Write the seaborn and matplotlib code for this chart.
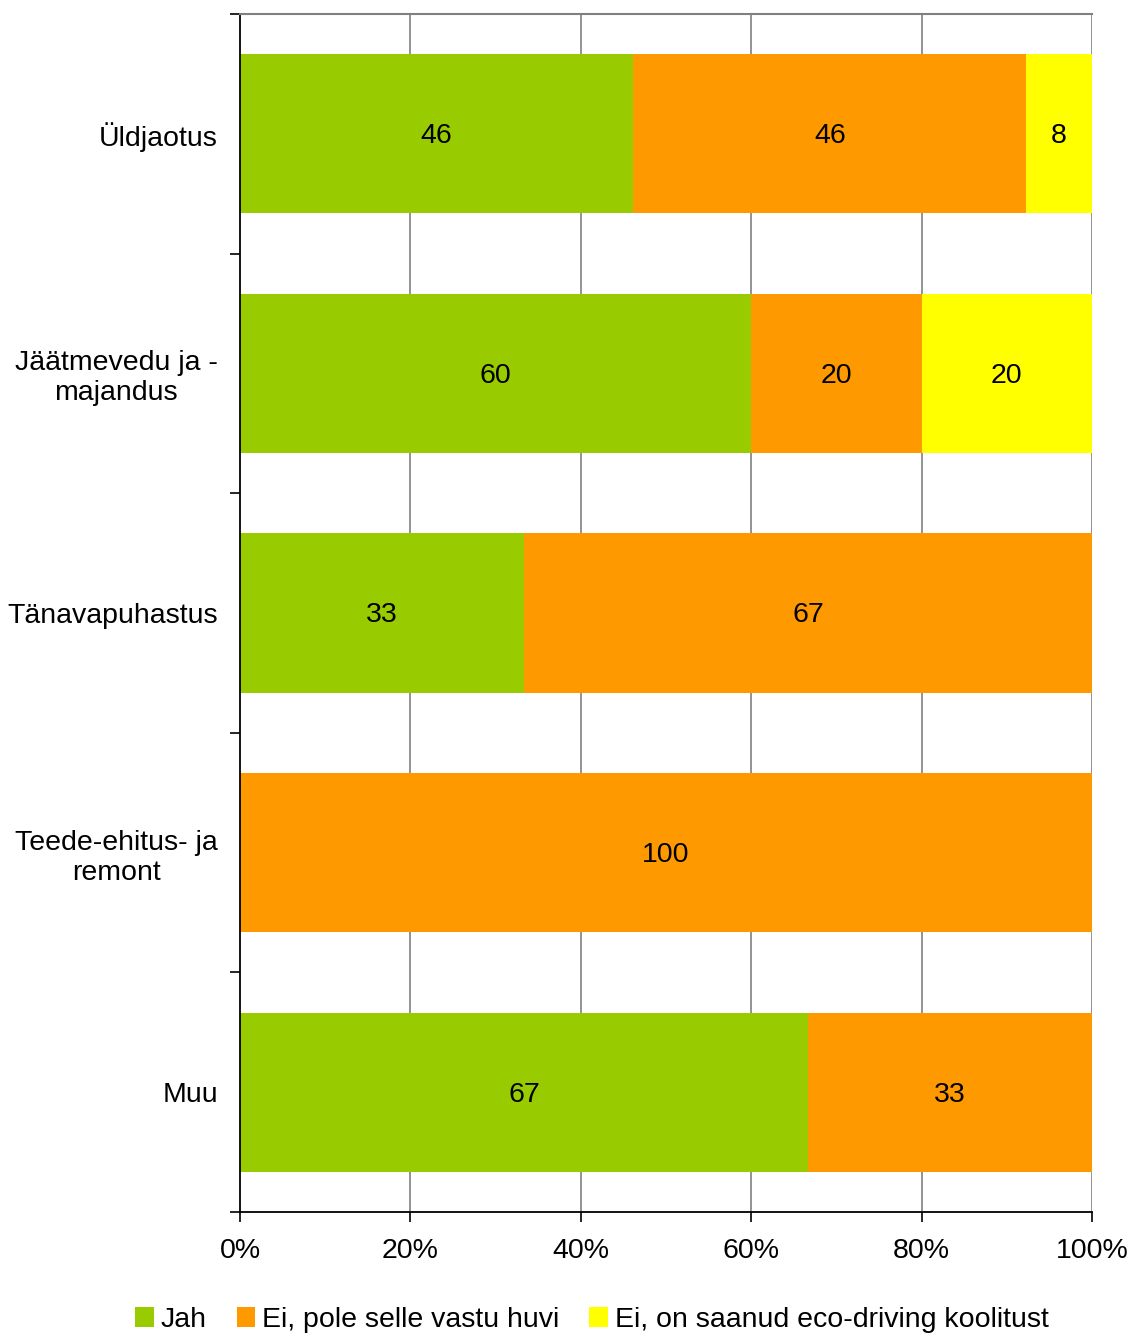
import matplotlib
matplotlib.use("Agg")
import matplotlib.pyplot as plt
from matplotlib.patches import Patch
import seaborn as sns
import pandas as pd
import numpy as np

categories = ["Üldjaotus", "Jäätmevedu ja -\nmajandus", "Tänavapuhastus", "Teede-ehitus- ja\nremont", "Muu"]
series_names = ["Jah", "Ei, pole selle vastu huvi", "Ei, on saanud eco-driving koolitust"]
jah = [46.15, 60.0, 33.33, 0.0, 66.67]
ei_huvi = [46.15, 20.0, 66.67, 100.0, 33.33]
ei_koolitus = [7.69, 20.0, 0.0, 0.0, 0.0]
colors = ["#99CC00", "#FF9900", "#FFFF00"]
xticks = [0, 20, 40, 60, 80, 100]
xtick_labels = ["0%", "20%", "40%", "60%", "80%", "100%"]

sns.set_theme(style="white")
plt.rcParams["font.family"] = ["Liberation Sans", "DejaVu Sans"]
plt.rcParams["text.color"] = "black"
plt.rcParams["xtick.color"] = "black"
plt.rcParams["ytick.color"] = "black"
plt.rcParams["xtick.labelcolor"] = "black"
plt.rcParams["ytick.labelcolor"] = "black"

FS = 20.5

df = pd.DataFrame({"cat": categories, "s1": jah, "s2": ei_huvi, "s3": ei_koolitus})
df["c1"] = df["s1"]
df["c2"] = df["s1"] + df["s2"]
df["c3"] = df["c2"] + df["s3"]

fig = plt.figure(figsize=(11.32, 13.36), dpi=100)
ax = fig.add_axes([240/1132, 1-1212/1336, (1092-240)/1132, (1212-14)/1336])

width = 0.665
for col, color in zip(["c3", "c2", "c1"], colors[::-1]):
    sns.barplot(data=df, x=col, y="cat", order=categories, color=color,
                orient="h", width=width, saturation=1, linewidth=0, ax=ax, zorder=2)

# labels
starts = np.zeros(len(categories))
for vals in [jah, ei_huvi, ei_koolitus]:
    for i, v in enumerate(vals):
        if v > 0:
            ax.text(starts[i] + v/2, i + 0.01, f"{round(v):d}", ha="center", va="center",
                    fontsize=FS, color="black", zorder=5)
    starts += np.array(vals)

ax.set_xlim(0, 100)
ax.set_ylim(len(categories)-0.5, -0.5)
ax.set_xlabel("")
ax.set_ylabel("")

for x in xticks[1:]:
    ax.axvline(x, color="#808080", linewidth=1.2, zorder=1)

ax.set_xticks(xticks)
ax.set_xticklabels(xtick_labels, fontsize=FS)
ax.tick_params(axis="x", direction="out", length=7, width=1.2, color="black", pad=12, bottom=True)

ax.set_yticks(np.arange(-0.5, len(categories), 1.0))
ax.set_yticklabels([])
ax.set_yticks(np.arange(len(categories)), minor=True)
ax.set_yticklabels(categories, minor=True, fontsize=FS, multialignment="center")
ax.tick_params(axis="y", which="major", direction="out", length=7, width=1.2, color="black", left=True)
ax.tick_params(axis="y", which="minor", length=0, pad=16)

for s in ["left", "bottom"]:
    ax.spines[s].set_color("black")
    ax.spines[s].set_linewidth(1.3)
ax.spines["top"].set_color("#808080")
ax.spines["top"].set_linewidth(1.5)
ax.spines["right"].set_visible(False)
for sp in ax.spines.values():
    sp.set_zorder(4)

handles = [Patch(facecolor=c, edgecolor="none") for c in colors]
fig.legend(handles, series_names, loc="center", bbox_to_anchor=(592/1132, 1-1320/1336),
           ncol=3, frameon=False, fontsize=FS, handlelength=0.65, handleheight=0.65,
           handletextpad=0.25, columnspacing=1.05)

fig.savefig("out.png", dpi=100)
